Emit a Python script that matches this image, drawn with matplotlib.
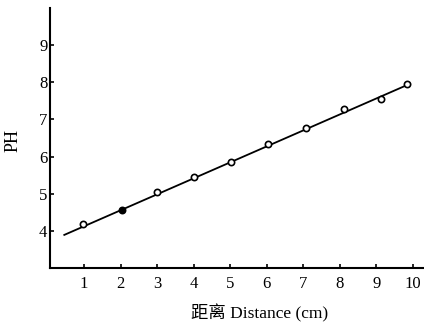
import matplotlib
matplotlib.use("Agg")
import matplotlib.pyplot as plt
import numpy as np

distance = [0.97, 2.03, 2.99, 4.01, 5.02, 6.03, 7.07, 8.12, 9.12, 9.84]
ph = [4.19, 4.56, 5.05, 5.44, 5.85, 6.34, 6.77, 7.28, 7.55, 7.95]
filled = [False, True, False, False, False, False, False, False, False, False]
fit_x = [0.46, 9.92]
fit_y = [3.89, 7.96]
xticks = [1, 2, 3, 4, 5, 6, 7, 8, 9, 10]
yticks = [4, 5, 6, 7, 8, 9]

fam = ['Liberation Serif', 'Noto Sans CJK SC', 'DejaVu Sans']
plt.rcParams['font.family'] = fam

fig = plt.figure(figsize=(4.24, 3.30), dpi=100)
ax = fig.add_axes([0.118, 0.188, 0.882, 0.788])
ax.plot(fit_x, fit_y, color='black', lw=1.3, zorder=2)
for x, y, f in zip(distance, ph, filled):
    ax.plot([x], [y], marker='o', ms=4.5, mew=1.2, mec='black',
            mfc='black' if f else 'white', ls='none', zorder=3)

ax.set_xlim(0.07, 10.3)
ax.set_ylim(3, 10)
ax.set_xticks(xticks)
ax.set_yticks(yticks)
ax.tick_params(direction='in', length=3, width=1.2, labelsize=12, pad=6)
ax.tick_params(axis='y', pad=2)
for s in ['top', 'right']:
    ax.spines[s].set_visible(False)
for s in ['left', 'bottom']:
    ax.spines[s].set_linewidth(1.5)
ax.set_ylabel('PH', fontsize=13)
ax.yaxis.set_label_coords(-0.075, 0.49)
ax.set_xlabel('距离 Distance (cm)', fontsize=12.5)
ax.xaxis.set_label_coords(0.56, -0.14)
fig.savefig('out.png', dpi=100)
